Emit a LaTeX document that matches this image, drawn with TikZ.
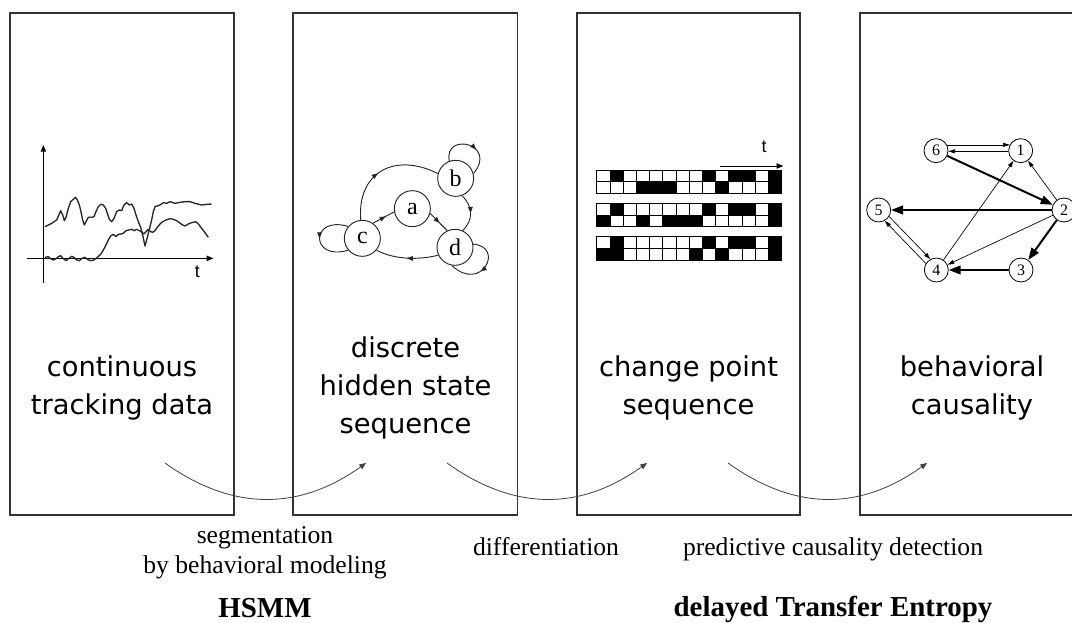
\documentclass[tikz,border=0pt]{standalone}
\usepackage{fontspec}
\setmainfont{Liberation Serif}
\newfontfamily\labelfont{DejaVu Sans}
\newfontfamily\axisfont{Liberation Sans}
\usetikzlibrary{arrows.meta,decorations.markings}

\tikzset{
  panel/.style={draw=black!80, line width=1pt},
  boxlabel/.style={font=\labelfont\fontsize{20.5}{28.5}\selectfont, align=center, anchor=base, inner sep=0pt},
  note/.style={font=\fontsize{19.2}{22.5}\selectfont, align=center, anchor=base, inner sep=0pt},
  method/.style={font=\bfseries\fontsize{21.7}{26}\selectfont, anchor=base, inner sep=0pt},
  flow/.style={draw=black!75, line width=0.6pt, -{Triangle[length=5pt,width=4pt]}},
  trace/.style={draw=black!85, line width=1pt, line join=round},
  axis/.style={draw=black, line width=0.8pt, -{Triangle[length=5pt,width=4pt]}},
  tlabel/.style={font=\axisfont\fontsize{13.5}{15}\selectfont, inner sep=0pt},
  state/.style={circle, draw=black!85, line width=0.7pt, minimum size=27pt, inner sep=0pt,
                font=\fontsize{18}{20}\selectfont},
  trans/.style={draw=black!85, line width=0.7pt},
  midarrow/.style={postaction={decorate}, decoration={markings,
                   mark=at position #1 with {\arrow{Triangle[length=4.5pt,width=3.5pt]}}}},
  agent/.style={circle, draw=black, line width=0.6pt, minimum size=18pt, inner sep=0pt,
                font=\fontsize{12}{13}\selectfont},
  weak/.style={draw=black, line width=0.5pt, -{Triangle[length=5pt,width=3pt]}},
  strong/.style={draw=black, line width=1.5pt, -{Triangle[length=9pt,width=6.5pt]}},
  cell/.style={draw=black, line width=0.5pt},
}

\begin{document}
\begin{tikzpicture}[x=0.75pt, y=-0.75pt]
\useasboundingbox (0,0) rectangle (1072,623);
\fill[white] (0,0) rectangle (1072,623);

% ---------- the four stage panels ----------
\draw[panel] (10,13) rectangle (234,515);
\draw[panel] (293,13) rectangle (517.5,515);
\draw[panel] (577,13) rectangle (800,515);
\draw[panel] (860,13) rectangle (1090,515);

% multi-line labels: the base anchor sits on the last line
\node[boxlabel] (lab1) at (122,415) {continuous\\tracking data};
\node[boxlabel] (lab2) at (405.5,434) {discrete\\hidden state\\sequence};
\node[boxlabel] (lab3) at (688.5,415) {change point\\sequence};
\node[boxlabel] (lab4) at (972,415) {behavioral\\causality};

% ---------- transitions between stages ----------
\coordinate (s1) at (165,463);  \coordinate (e1) at (366,463);
\coordinate (s2) at (447,463);  \coordinate (e2) at (647,463);
\coordinate (s3) at (728,463);  \coordinate (e3) at (927,463);
\draw[flow] (s1) .. controls (232,511) and (299,511) .. (e1);
\draw[flow] (s2) .. controls (514,511) and (580,511) .. (e2);
\draw[flow] (s3) .. controls (795,511) and (860,511) .. (e3);

\node[note] (m1) at (265,574) {segmentation\\by behavioral modeling};
\node[note] (m2) at (546,556) {differentiation};
\node[note] (m3) at (833,556) {predictive causality detection};
\node[method] (h1) at (265,618) {HSMM};
\node[method] (h2) at (833,617) {delayed Transfer Entropy};

% ---------- panel 1: tracking signals ----------
\begin{scope}[shift={(20,140)}, x=0.25pt, y=-0.25pt]
  \coordinate (ybot) at (70,430);  \coordinate (ytop) at (70,15);
  \coordinate (xl) at (20,355);    \coordinate (xr) at (580,355);
  \draw[axis] (ybot) -- (ytop);
  \draw[axis] (xl) -- (xr);
  \node[tlabel] (tA) at (532,395) {t};
  \draw[trace] plot coordinates {(75,260) (95,250) (110,240) (118,222) (122,212) (128,225)
    (133,242) (138,232) (145,205) (152,185) (160,178) (167,172) (172,180) (178,195)
    (183,215) (188,240) (193,255) (198,245) (205,232) (215,232) (222,230) (228,215)
    (235,200) (242,193) (250,195) (257,205) (262,220) (268,238) (275,245) (282,235)
    (290,215) (298,210) (305,212) (312,195) (320,188) (328,195) (335,192) (342,205)
    (348,225) (355,245) (362,262) (368,285) (375,318) (380,300) (385,280) (390,260)
    (395,240) (400,215) (405,200) (412,198) (420,195) (430,188) (440,190) (450,185)
    (465,190) (480,187) (495,185) (510,185) (525,190) (545,195) (560,193) (575,192)};
  \draw[trace] plot coordinates {(75,352) (85,350) (92,356) (100,360) (108,356) (115,350)
    (122,347) (130,356) (138,362) (147,355) (155,349) (162,352) (170,360) (178,362)
    (186,355) (195,352) (205,360) (212,362) (222,360) (232,352) (242,343) (250,330)
    (258,315) (265,300) (272,288) (280,283) (288,290) (295,283) (303,282) (310,280)
    (318,272) (326,270) (335,268) (342,272) (350,268) (358,272) (365,276) (372,282)
    (378,275) (385,268) (392,275) (398,277) (405,272) (412,262) (420,252) (428,245)
    (438,240) (450,236) (460,238) (470,242) (478,248) (488,255) (495,258) (505,252)
    (515,248) (527,245) (535,252) (545,265) (555,278) (565,292)};
\end{scope}

% ---------- panel 2: hidden state automaton ----------
\begin{scope}[shift={(305,140)}, x=0.25pt, y=-0.25pt]
  \node[state] (a) at (322,206) {a};
  \node[state] (b) at (452,115) {b};
  \node[state] (c) at (172,295) {c};
  \node[state] (d) at (450,322) {d};
  \draw[trans, midarrow=0.45] (c.95) .. controls (156,96) and (270,36) .. (b.165);
  \draw[trans, midarrow=0.6] (c.55) -- (a.190);
  \draw[trans, midarrow=0.55] (a.345) -- (d.115);
  \draw[trans, midarrow=0.5] (b.290) .. controls (505,200) and (505,240) .. (d.65);
  \draw[trans, midarrow=0.5] (d.205) .. controls (345,360) and (270,360) .. (c.320);
  \draw[trans, midarrow=0.6] (b.110) .. controls (415,-25) and (580,10) .. (b.15);
  \draw[trans, midarrow=0.5] (c.140) .. controls (15,225) and (15,365) .. (c.220);
  \draw[trans, midarrow=0.55] (d.10) .. controls (600,320) and (530,460) .. (d.260);
\end{scope}

% ---------- panel 3: change point sequences ----------
\begin{scope}[shift={(590,135)}, x=0.25pt, y=-0.25pt]
  \foreach \by/\topb/\botb in {105/{2,9,11,12,14}/{4,5,6,10,14},
                               205/{2,9,11,12,14}/{1,4,6,7,8,14},
                               305/{2,9,11,12,14}/{1,2,8,10,14}} {
    \foreach \i in \topb {
      \fill[black] (20+\i*39.643-39.643,\by) rectangle ++(39.643,35);
    }
    \foreach \i in \botb {
      \fill[black] (20+\i*39.643-39.643,\by+35) rectangle ++(39.643,35);
    }
    \foreach \r in {0,...,13} {
      \draw[cell] (20+\r*39.643,\by) rectangle ++(39.643,35);
      \draw[cell] (20+\r*39.643,\by+35) rectangle ++(39.643,35);
    }
  }
  \coordinate (ta) at (390,93);  \coordinate (tb) at (580,93);
  \draw[axis, line width=0.6pt] (ta) -- (tb);
  \node[tlabel] (tB) at (522,35) {t};
\end{scope}

% ---------- panel 4: causal network ----------
\begin{scope}[shift={(860,130)}, x=0.25pt, y=-0.25pt]
  \node[agent] (n6) at (228,62) {6};
  \node[agent] (n1) at (482,62) {1};
  \node[agent] (n5) at (56,240) {5};
  \node[agent] (n2) at (612,240) {2};
  \node[agent] (n4) at (229,420) {4};
  \node[agent] (n3) at (483,420) {3};
  \draw[weak] (n6.28) -- (n1.152);
  \draw[weak] (n1.183) -- (n6.357);
  \draw[strong] (n6) -- (n2);
  \draw[weak] (n2) -- (n1);
  \draw[strong] (n2) -- (n5);
  \draw[weak] (n2) -- (n4);
  \draw[strong] (n2) -- (n3);
  \draw[strong] (n3) -- (n4);
  \draw[weak] (n4) -- (n1);
  \draw[weak] (n5.328.4) -- (n4.119.4);
  \draw[weak] (n4.148.4) -- (n5.299.4);
\end{scope}
\end{tikzpicture}
\end{document}
